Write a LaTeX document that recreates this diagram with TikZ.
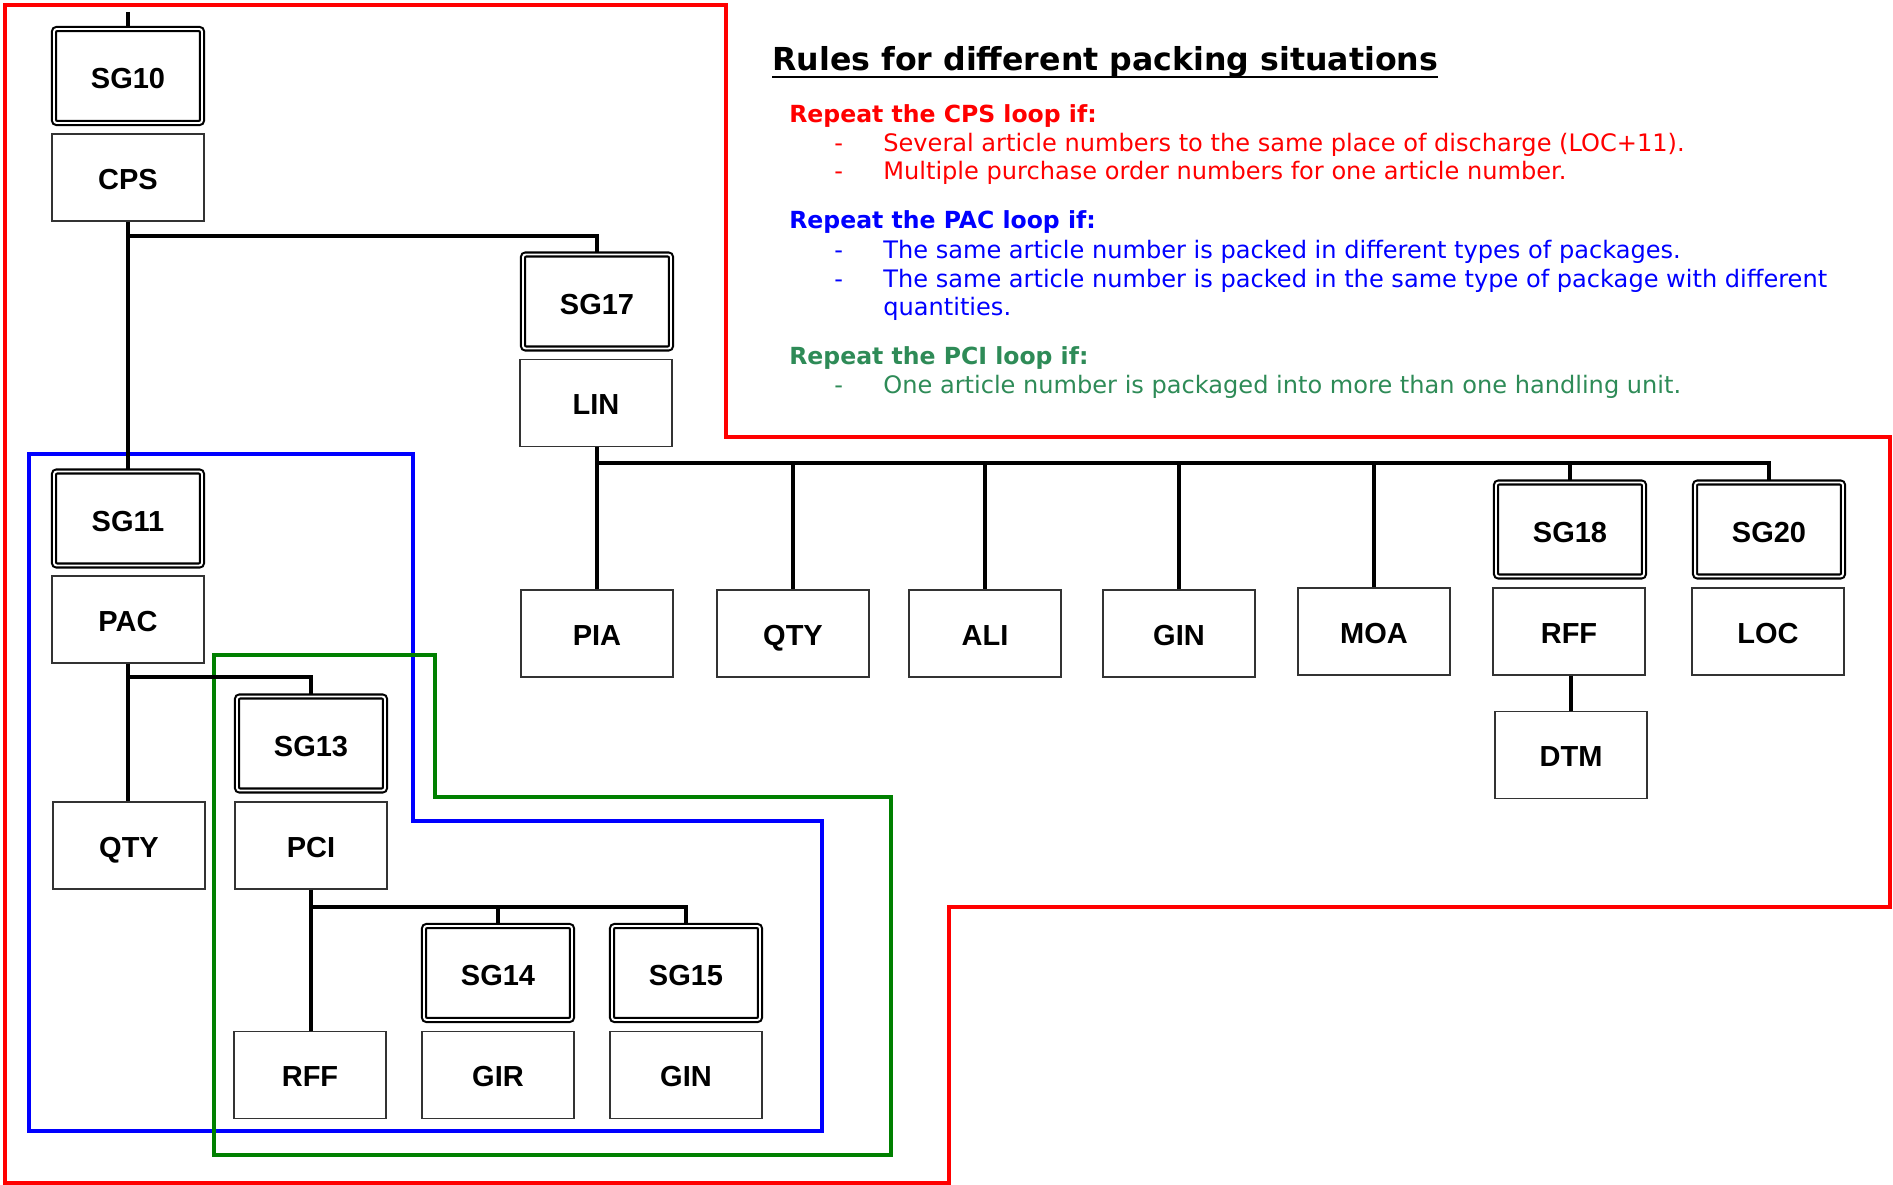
\documentclass[tikz,border=0pt]{standalone}
\usepackage{fontspec}
\setmainfont{Liberation Sans}
\newfontfamily\rulefont{DejaVu Sans}
\usepackage{xcolor}
\usepackage{tikz}

\definecolor{cpsred}{RGB}{255,0,0}
\definecolor{pacblue}{RGB}{0,0,255}
\definecolor{pcigreen}{RGB}{0,128,0}
\definecolor{pcitext}{RGB}{46,139,87}

\begin{document}
\begin{tikzpicture}[x=0.02cm, y=-0.02cm,
    seg/.style={draw=black!80, line width=0.75pt, minimum width=3.04cm, minimum height=1.74cm, inner sep=0pt, text height=13.6pt, text depth=0pt, font=\fontsize{16.5}{19}\selectfont\bfseries},
    sgbox/.style={draw, line width=1.2pt, double=white, double distance=1.1pt, rounded corners=1.5pt, minimum width=2.96cm, minimum height=1.88cm, inner sep=0pt, text height=14.6pt, text depth=0pt, font=\fontsize{16.5}{19}\selectfont\bfseries},
    link/.style={line width=2pt},
    loopline/.style={line width=2.2pt},
    rule/.style={anchor=base west, inner sep=0pt, font=\rulefont\fontsize{13.7}{16}\selectfont},
    rulehead/.style={rule, font=\rulefont\bfseries\fontsize{13.4}{16}\selectfont}
]
    \useasboundingbox (0,0) rectangle (1893,1185);

    % Loops
    \draw[loopline, cpsred] (5,5) -- (726,5) -- (726,437) -- (1890,437) -- (1890,907) -- (949,907) -- (949,1183) -- (5,1183) -- cycle;
    \draw[loopline, pacblue] (29,454) -- (413,454) -- (413,821) -- (822,821) -- (822,1131) -- (29,1131) -- cycle;
    \draw[loopline, pcigreen] (214,655) -- (435,655) -- (435,797) -- (891,797) -- (891,1155) -- (214,1155) -- cycle;

    % CPS group
    \node[sgbox] (sg10) at (128,76) {SG10};
    \node[seg] (cps) at (128,177.5) {CPS};

    % PAC group
    \node[sgbox] (sg11) at (128,518.5) {SG11};
    \node[seg] (pac) at (128,619.5) {PAC};
    \node[seg] (qtya) at (129,845.5) {QTY};

    % PCI group
    \node[sgbox] (sg13) at (311,743.5) {SG13};
    \node[seg] (pci) at (311,845.5) {PCI};
    \node[seg] (rffa) at (310,1075) {RFF};
    \node[sgbox] (sg14) at (498,973) {SG14};
    \node[seg] (gir) at (498,1075) {GIR};
    \node[sgbox] (sg15) at (686,973) {SG15};
    \node[seg] (gina) at (686,1075) {GIN};

    % LIN group
    \node[sgbox] (sg17) at (597,301.5) {SG17};
    \node[seg] (lin) at (596,403) {LIN};
    \node[seg] (pia) at (597,633.5) {PIA};
    \node[seg] (qtyb) at (793,633.5) {QTY};
    \node[seg] (ali) at (985,633.5) {ALI};
    \node[seg] (ginb) at (1179,633.5) {GIN};
    \node[seg] (moa) at (1374,631.5) {MOA};
    \node[sgbox] (sg18) at (1570,529.5) {SG18};
    \node[seg] (rffb) at (1569,631.5) {RFF};
    \node[seg] (dtm) at (1571,755) {DTM};
    \node[sgbox] (sg20) at (1769,529.5) {SG20};
    \node[seg] (loc) at (1768,631.5) {LOC};

    % Connections
    \coordinate (feed) at (128,12);
    \draw[link] (feed) -- (sg10.north);
    \draw[link] (cps.south) -- (sg11.north);
    \coordinate (cpsfork) at (128,236);
    \draw[link] (cpsfork) -| (sg17.north);

    \draw[link] (pac.south) -- (pac.south |- qtya.north);
    \coordinate (pacfork) at (128,677);
    \draw[link] (pacfork) -| (sg13.north);

    \draw[link] (pci.south) -- (pci.south |- rffa.north);
    \coordinate (pcifork) at (311,907);
    \draw[link] (pcifork) -| (sg14.north);
    \draw[link] (pcifork) -| (sg15.north);

    \draw[link] (lin.south -| pia.north) -- (pia.north);
    \coordinate (linfork) at (597,463);
    \draw[link] (linfork) -| (sg20.north);
    \foreach \seg in {qtyb,ali,ginb,moa,sg18}
        \draw[link] (linfork -| \seg.north) -- (\seg.north);
    \draw[link] (rffb.south -| dtm.north) -- (dtm.north);

    % Rules text
    \node[rule, font=\rulefont\bfseries\fontsize{18}{22}\selectfont] (title) at (772,71) {Rules for different packing situations};
    \draw[line width=1.6pt] ([yshift=-3.4pt]title.base west) -- ([yshift=-3.4pt]title.base east);

    \node[rulehead, text=cpsred] (cpshead) at (789,123) {Repeat the CPS loop if:};
    \node[rule, text=cpsred] (cpsdasha) at (834,152) {-};
    \node[rule, text=cpsred] (cpsrulea) at (883,152) {Several article numbers to the same place of discharge (LOC+11).};
    \node[rule, text=cpsred] (cpsdashb) at (834,180) {-};
    \node[rule, text=cpsred] (cpsruleb) at (883,180) {Multiple purchase order numbers for one article number.};

    \node[rulehead, text=pacblue] (pachead) at (789,229) {Repeat the PAC loop if:};
    \node[rule, text=pacblue] (pacdasha) at (834,259) {-};
    \node[rule, text=pacblue] (pacrulea) at (883,259) {The same article number is packed in different types of packages.};
    \node[rule, text=pacblue] (pacdashb) at (834,288) {-};
    \node[rule, text=pacblue] (pacruleb) at (883,288) {The same article number is packed in the same type of package with different};
    \node[rule, text=pacblue] (pacrulec) at (883,316) {quantities.};

    \node[rulehead, text=pcitext] (pcihead) at (789,365) {Repeat the PCI loop if:};
    \node[rule, text=pcitext] (pcidasha) at (834,394) {-};
    \node[rule, text=pcitext] (pcirulea) at (883,394) {One article number is packaged into more than one handling unit.};
\end{tikzpicture}
\end{document}
